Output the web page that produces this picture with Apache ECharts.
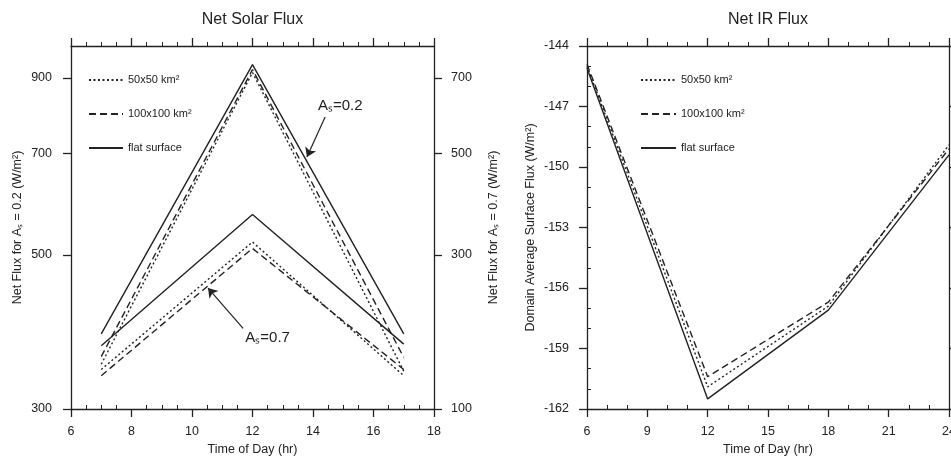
<!DOCTYPE html>
<html><head><meta charset="utf-8">
<script src="https://cdn.jsdelivr.net/npm/echarts@6/dist/echarts.min.js"></script>
<style>html,body{margin:0;padding:0;background:#fff}#c{width:951px;height:460px}</style>
</head><body><div id="c"></div>
<script>
// ---------------- data ----------------
const solarHours = [7, 12, 17];
// albedo 0.2 (left axis, W/m2)
const solarA02_50 = [348, 916, 340];
const solarA02_100 = [357, 925, 356];
const solarA02_flat = [385, 940, 385];
// albedo 0.7 (right axis, W/m2)
const solarA07_50 = [142, 322, 135];
const solarA07_100 = [135, 311, 142];
const solarA07_flat = [170, 372, 172];

const irHours = [6, 12, 18, 24];
const ir_50 = [-145.0, -160.9, -156.9, -148.9];
const ir_100 = [-144.9, -160.4, -156.7, -149.1];
const ir_flat = [-145.1, -161.5, -157.1, -149.4];

const solarLeftTicks = [300, 500, 700, 900];
const solarRightTicks = [100, 300, 500, 700];
const rightAxisOffset = 200; // right-axis value = left-axis value - 200

const legendNames = ['50x50 km\u00B2', '100x100 km\u00B2', 'flat surface'];

// annotation placement (left-axis data units)
const annotA02 = { text: 'A\u209B=0.2', label: [14.9, 819], from: [14.4, 790], to: [13.8, 692] };
const annotA07 = { text: 'A\u209B=0.7', label: [12.5, 380], from: [11.69, 392], to: [10.53, 448] };

// ---------------- style ----------------
const FONT = "'Liberation Sans', Arial, Helvetica, sans-serif";
const INK = '#222';
const DASH = { '50x50 km\u00B2': [2, 2.5], '100x100 km\u00B2': [7, 4], 'flat surface': 'solid' };
const axLineStyle = { color: INK, width: 1.3 };
const lbl = (margin, extra) => Object.assign({ color: INK, fontSize: 12.5, fontFamily: FONT, margin }, extra || {});
const nameStyle = { color: INK, fontSize: 12.5, fontFamily: FONT };

function lineSeries(name, data, xi, yi, extra) {
  return Object.assign({
    type: 'line', name, data, xAxisIndex: xi, yAxisIndex: yi,
    symbol: 'none', silent: true,
    lineStyle: { color: INK, width: 1.4, type: DASH[name] },
    itemStyle: { color: INK }
  }, extra || {});
}
const pairs = (xs, ys, off) => xs.map((x, i) => [x, ys[i] + (off || 0)]);

const LN = Math.log;

const legendBase = {
  orient: 'vertical', padding: 0, itemHeight: 12, itemGap: 23, data: legendNames, selectedMode: false,
  itemStyle: { color: 'rgba(0,0,0,0)', borderColor: 'rgba(0,0,0,0)', borderWidth: 0, opacity: 0 },
  textStyle: { fontSize: 11, color: INK, fontFamily: FONT }
};

const option = {
  animation: false,
  backgroundColor: '#fff',
  graphic: [
    { type: 'text', x: 252.5, y: 20, style: { text: 'Net Solar Flux', font: `16px ${FONT}`, fill: INK, align: 'center', verticalAlign: 'middle', textAlign: 'center', textVerticalAlign: 'middle' } },
    { type: 'text', x: 768, y: 20, style: { text: 'Net IR Flux', font: `16px ${FONT}`, fill: INK, align: 'center', verticalAlign: 'middle', textAlign: 'center', textVerticalAlign: 'middle' } }
  ],
  grid: [
    { left: 71, top: 46, width: 363, height: 363, outerBoundsMode: 'none', containLabel: false },
    { left: 587, top: 46, width: 362, height: 363, outerBoundsMode: 'none', containLabel: false }
  ],
  legend: [
    Object.assign({ left: 88, top: 74.5, itemWidth: 34 }, legendBase),
    Object.assign({ left: 640, top: 74.5, itemWidth: 35 }, legendBase)
  ],
  xAxis: [
    { gridIndex: 0, type: 'value', min: 6, max: 18, interval: 2, position: 'bottom',
      axisLine: { show: true, lineStyle: axLineStyle }, axisTick: { show: true, inside: false, length: 8, lineStyle: axLineStyle },
      minorTick: { show: false }, axisLabel: lbl(16), splitLine: { show: false },
      name: 'Time of Day (hr)', nameLocation: 'middle', nameGap: 34, nameTextStyle: nameStyle, nameMoveOverlap: false },
    { gridIndex: 0, type: 'value', min: 6, max: 18, interval: 2, position: 'bottom',
      axisLine: { show: false }, axisTick: { show: false, inside: true }, axisLabel: { show: false }, splitLine: { show: false },
      minorTick: { show: true, splitNumber: 4, length: 4, lineStyle: { color: INK, width: 1 } } },
    { gridIndex: 0, type: 'value', min: 6, max: 18, interval: 2, position: 'top',
      axisLine: { show: true, lineStyle: axLineStyle }, axisTick: { show: true, inside: false, length: 8, lineStyle: axLineStyle },
      axisLabel: { show: false }, splitLine: { show: false },
      minorTick: { show: true, splitNumber: 4, length: 4, lineStyle: { color: INK, width: 1 } } },

    { gridIndex: 1, type: 'value', min: 6, max: 24, interval: 3, position: 'bottom',
      axisLine: { show: true, lineStyle: axLineStyle }, axisTick: { show: true, inside: false, length: 8, lineStyle: axLineStyle },
      minorTick: { show: false }, axisLabel: lbl(16), splitLine: { show: false },
      name: 'Time of Day (hr)', nameLocation: 'middle', nameGap: 34, nameTextStyle: nameStyle, nameMoveOverlap: false },
    { gridIndex: 1, type: 'value', min: 6, max: 24, interval: 3, position: 'bottom',
      axisLine: { show: false }, axisTick: { show: false, inside: true }, axisLabel: { show: false }, splitLine: { show: false },
      minorTick: { show: true, splitNumber: 3, length: 4, lineStyle: { color: INK, width: 1 } } },
    { gridIndex: 1, type: 'value', min: 6, max: 24, interval: 3, position: 'top',
      axisLine: { show: true, lineStyle: axLineStyle }, axisTick: { show: true, inside: false, length: 8, lineStyle: axLineStyle },
      axisLabel: { show: false }, splitLine: { show: false },
      minorTick: { show: true, splitNumber: 3, length: 4, lineStyle: { color: INK, width: 1 } } }
  ],
  yAxis: [
    // 0: log scale carrying the solar-flux lines
    { gridIndex: 0, type: 'log', logBase: 10, min: 300, max: 1000, show: false },
    // 1: left tick/label axis for the log scale
    { gridIndex: 0, type: 'value', position: 'left', min: LN(300), max: LN(1000),
      axisLine: { show: true, lineStyle: axLineStyle },
      axisTick: { show: true, inside: false, length: 8, lineStyle: axLineStyle, customValues: solarLeftTicks.map(v => LN(v)) },
      axisLabel: lbl(19, { customValues: solarLeftTicks.map(v => LN(v)), formatter: v => String(Math.round(Math.exp(v))) }),
      splitLine: { show: false },
      name: 'Net Flux for A\u209B = 0.2 (W/m\u00B2)', nameLocation: 'middle', nameGap: 47, nameRotate: 90, nameTextStyle: nameStyle, nameMoveOverlap: false },
    // 2: right tick/label axis (offset by 200)
    { gridIndex: 0, type: 'value', position: 'right', min: LN(300), max: LN(1000),
      axisLine: { show: true, lineStyle: axLineStyle },
      axisTick: { show: true, inside: false, length: 8, lineStyle: axLineStyle, customValues: solarRightTicks.map(v => LN(v + rightAxisOffset)) },
      axisLabel: lbl(17, { customValues: solarRightTicks.map(v => LN(v + rightAxisOffset)), formatter: v => String(Math.round(Math.exp(v)) - rightAxisOffset) }),
      splitLine: { show: false },
      name: 'Net Flux for A\u209B = 0.7 (W/m\u00B2)', nameLocation: 'middle', nameGap: 53, nameRotate: 90, nameTextStyle: nameStyle, nameMoveOverlap: false },
    // 3: IR left axis
    { gridIndex: 1, type: 'value', position: 'left', min: -162, max: -144, interval: 3,
      axisLine: { show: true, lineStyle: axLineStyle }, axisTick: { show: true, inside: false, length: 8, lineStyle: axLineStyle },
      minorTick: { show: false }, axisLabel: lbl(18), splitLine: { show: false },
      name: 'Domain Average Surface Flux (W/m\u00B2)', nameLocation: 'middle', nameGap: 50, nameRotate: 90, nameTextStyle: nameStyle, nameMoveOverlap: false },
    // 4: IR minor ticks (inside)
    { gridIndex: 1, type: 'value', position: 'left', min: -162, max: -144, interval: 3,
      axisLine: { show: false }, axisTick: { show: false, inside: true }, axisLabel: { show: false }, splitLine: { show: false },
      minorTick: { show: true, splitNumber: 3, length: 4, lineStyle: { color: INK, width: 1 } } },
    // 5: IR right frame
    { gridIndex: 1, type: 'value', position: 'right', min: -162, max: -144, interval: 3,
      axisLine: { show: true, lineStyle: axLineStyle }, axisTick: { show: true, inside: false, length: 8, lineStyle: axLineStyle },
      axisLabel: { show: false }, splitLine: { show: false } }
  ],
  series: [
    lineSeries(legendNames[0], pairs(solarHours, solarA02_50), 0, 0),
    lineSeries(legendNames[1], pairs(solarHours, solarA02_100), 0, 0),
    lineSeries(legendNames[2], pairs(solarHours, solarA02_flat), 0, 0, {
      markLine: {
        silent: true, symbol: ['none', 'arrow'], symbolSize: 9, animation: false,
        label: { show: false }, emphasis: { disabled: true },
        lineStyle: { color: INK, width: 1.2, type: 'solid' },
        data: [[{ coord: annotA02.from }, { coord: annotA02.to }], [{ coord: annotA07.from }, { coord: annotA07.to }]]
      },
      markPoint: {
        silent: true, symbol: 'circle', symbolSize: 1, itemStyle: { color: 'rgba(0,0,0,0)' }, animation: false,
        label: { show: true, position: 'inside', color: INK, fontSize: 15, fontFamily: FONT, formatter: p => p.name },
        data: [{ name: annotA02.text, coord: annotA02.label }, { name: annotA07.text, coord: annotA07.label }]
      }
    }),
    lineSeries(legendNames[0], pairs(solarHours, solarA07_50, rightAxisOffset), 0, 0),
    lineSeries(legendNames[1], pairs(solarHours, solarA07_100, rightAxisOffset), 0, 0),
    lineSeries(legendNames[2], pairs(solarHours, solarA07_flat, rightAxisOffset), 0, 0),

    lineSeries(legendNames[0], pairs(irHours, ir_50), 3, 3),
    lineSeries(legendNames[1], pairs(irHours, ir_100), 3, 3),
    lineSeries(legendNames[2], pairs(irHours, ir_flat), 3, 3)
  ]
};

const chart = echarts.init(document.getElementById('c'), null, { renderer: 'canvas' });
chart.setOption(option);
</script>
</body></html>
